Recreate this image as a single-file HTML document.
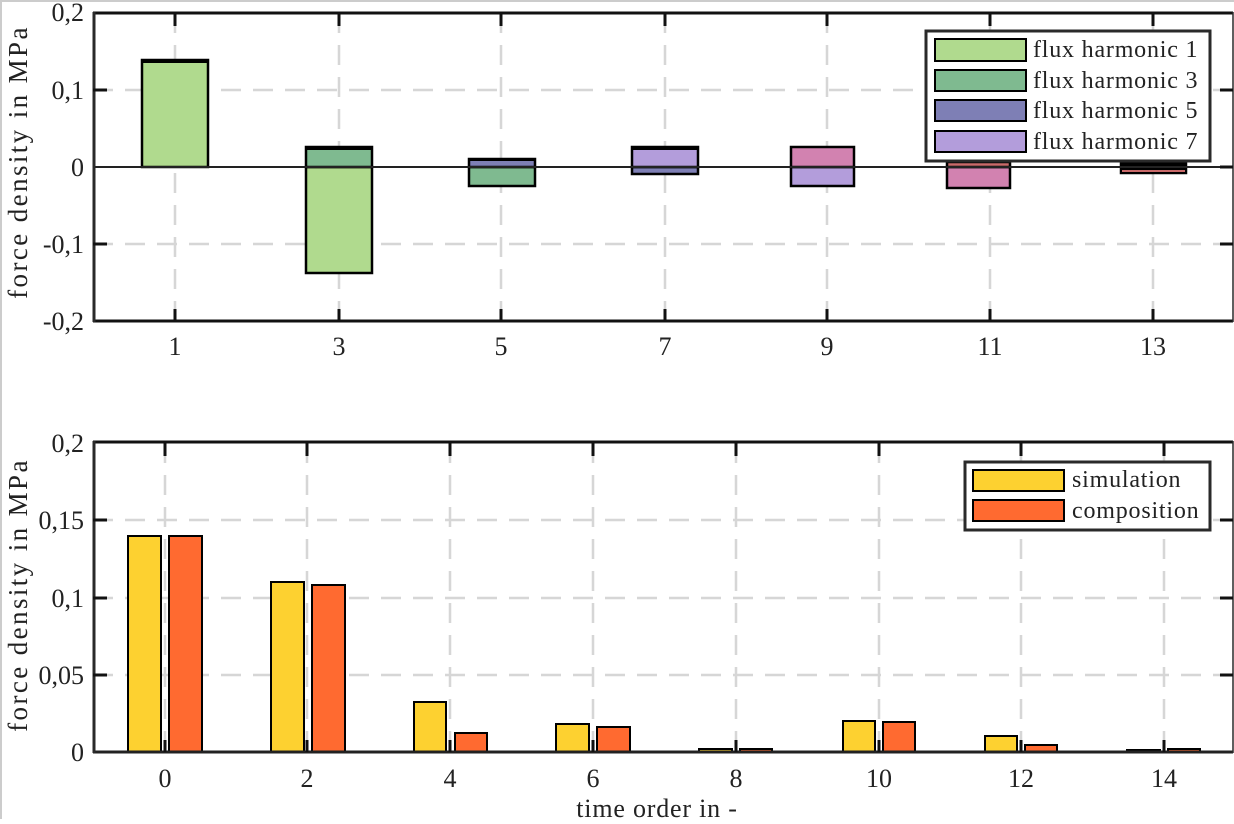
<!DOCTYPE html>
<html><head><meta charset="utf-8"><style>
html,body{margin:0;padding:0;background:#fff;}
svg text{font-family:"Liberation Serif",serif;fill:#222;}
.tk{font-size:26px;}
.lg{font-size:24px;letter-spacing:0.8px;}
.ttl{font-size:27px;letter-spacing:2.4px;}
</style></head><body>
<svg width="1234" height="819" viewBox="0 0 1234 819" xmlns="http://www.w3.org/2000/svg">
<rect x="0" y="0" width="1234" height="819" fill="#fff"/>
<line x1="0" y1="1" x2="1234" y2="1" stroke="#ccc" stroke-width="2"/>
<line x1="1" y1="0" x2="1" y2="819" stroke="#ccc" stroke-width="2"/>

<!-- ===== TOP PLOT ===== -->
<g stroke="#d6d6d6" stroke-width="2.5" stroke-dasharray="20,12">
  <line x1="93" y1="90" x2="1233" y2="90"/>
  <line x1="93" y1="244" x2="1233" y2="244"/>
  <line x1="175" y1="13" x2="175" y2="321"/>
  <line x1="339" y1="13" x2="339" y2="321"/>
  <line x1="501" y1="13" x2="501" y2="321"/>
  <line x1="665" y1="13" x2="665" y2="321"/>
  <line x1="827" y1="13" x2="827" y2="321"/>
  <line x1="990" y1="13" x2="990" y2="321"/>
  <line x1="1153" y1="13" x2="1153" y2="321"/>
</g>
<g stroke="#000" stroke-width="2.5">
  <rect x="142" y="60" width="66" height="107" fill="#b0da8e"/>
  <rect x="142" y="59" width="66" height="4" fill="#000" stroke="none"/>
  <rect x="306" y="167" width="66" height="106" fill="#b0da8e"/>
  <rect x="306" y="147" width="66" height="20" fill="#7fba90"/>
  <rect x="306" y="146" width="66" height="4" fill="#000" stroke="none"/>
  <rect x="469" y="167" width="66" height="19" fill="#7fba90"/>
  <rect x="469" y="159" width="66" height="8" fill="#7e7fb5"/>
  <rect x="469" y="158" width="66" height="3" fill="#000" stroke="none"/>
  <rect x="632" y="167" width="66" height="7" fill="#7e7fb5"/>
  <rect x="632" y="147" width="66" height="20" fill="#b39ddb"/>
  <rect x="632" y="146" width="66" height="4" fill="#000" stroke="none"/>
  <rect x="791" y="167" width="63" height="19" fill="#b39ddb"/>
  <rect x="791" y="147" width="63" height="20" fill="#d282b0"/>
  <rect x="947" y="167" width="63" height="21" fill="#d282b0"/>
  <rect x="947" y="162" width="63" height="5" fill="#c96a6a"/>
  <rect x="1121" y="163" width="65" height="10" fill="#000"/>
  <rect x="1122" y="170" width="63" height="2" fill="#c96a6a" stroke="none"/>
</g>
<line x1="93" y1="167" x2="1233" y2="167" stroke="#222" stroke-width="2"/>
<line x1="93" y1="13" x2="1233" y2="13" stroke="#111" stroke-width="3"/>
<line x1="93" y1="321" x2="1233" y2="321" stroke="#111" stroke-width="3"/>
<line x1="94" y1="12" x2="94" y2="322" stroke="#2a2a2a" stroke-width="3"/>
<line x1="1233" y1="12" x2="1233" y2="322" stroke="#2a2a2a" stroke-width="1.5"/>
<g stroke="#111" stroke-width="3">
  <line x1="93" y1="90" x2="107" y2="90"/><line x1="93" y1="244" x2="107" y2="244"/>
  <line x1="1233" y1="90" x2="1220" y2="90"/><line x1="1233" y1="244" x2="1220" y2="244"/>
  <line x1="1233" y1="167" x2="1220" y2="167"/>
  <line x1="175" y1="13" x2="175" y2="26"/><line x1="339" y1="13" x2="339" y2="26"/>
  <line x1="501" y1="13" x2="501" y2="26"/><line x1="665" y1="13" x2="665" y2="26"/>
  <line x1="827" y1="13" x2="827" y2="26"/><line x1="990" y1="13" x2="990" y2="26"/>
  <line x1="1153" y1="13" x2="1153" y2="26"/>
  <line x1="175" y1="321" x2="175" y2="309"/><line x1="339" y1="321" x2="339" y2="309"/>
  <line x1="501" y1="321" x2="501" y2="309"/><line x1="665" y1="321" x2="665" y2="309"/>
  <line x1="827" y1="321" x2="827" y2="309"/><line x1="990" y1="321" x2="990" y2="309"/>
  <line x1="1153" y1="321" x2="1153" y2="309"/>
</g>
<g class="tk" text-anchor="end">
  <text x="84" y="21">0,2</text>
  <text x="84" y="99">0,1</text>
  <text x="84" y="176">0</text>
  <text x="84" y="253">-0,1</text>
  <text x="84" y="330">-0,2</text>
</g>
<g class="tk" text-anchor="middle">
  <text x="175" y="355">1</text><text x="339" y="355">3</text><text x="501" y="355">5</text>
  <text x="665" y="355">7</text><text x="827" y="355">9</text><text x="990" y="355">11</text>
  <text x="1153" y="355">13</text>
</g>
<text class="ttl" text-anchor="middle" transform="translate(27,162) rotate(-90)">force density in MPa</text>
<rect x="926" y="31" width="284" height="130" fill="#fff" stroke="#2a2a2a" stroke-width="3"/>
<g stroke="#000" stroke-width="2">
  <rect x="935" y="39" width="91" height="22" fill="#b0da8e"/>
  <rect x="935" y="70" width="91" height="21" fill="#7fba90"/>
  <rect x="935" y="100" width="91" height="21" fill="#7e7fb5"/>
  <rect x="935" y="131" width="91" height="21" fill="#b39ddb"/>
</g>
<g class="lg">
  <text x="1033" y="57">flux harmonic 1</text>
  <text x="1033" y="88">flux harmonic 3</text>
  <text x="1033" y="118">flux harmonic 5</text>
  <text x="1033" y="149">flux harmonic 7</text>
</g>

<!-- ===== BOTTOM PLOT ===== -->
<g stroke="#d6d6d6" stroke-width="2.5" stroke-dasharray="20,12">
  <line x1="93" y1="520" x2="1233" y2="520"/>
  <line x1="93" y1="598" x2="1233" y2="598"/>
  <line x1="93" y1="675" x2="1233" y2="675"/>
  <line x1="165" y1="443" x2="165" y2="752"/>
  <line x1="307" y1="443" x2="307" y2="752"/>
  <line x1="450" y1="443" x2="450" y2="752"/>
  <line x1="593" y1="443" x2="593" y2="752"/>
  <line x1="736" y1="443" x2="736" y2="752"/>
  <line x1="879" y1="443" x2="879" y2="752"/>
  <line x1="1021" y1="443" x2="1021" y2="752"/>
  <line x1="1164" y1="443" x2="1164" y2="752"/>
</g>
<g stroke="#000" stroke-width="2">
  <rect x="128" y="536" width="33" height="216" fill="#fdd130"/>
  <rect x="169" y="536" width="33" height="216" fill="#ff6a30"/>
  <rect x="271" y="582" width="33" height="170" fill="#fdd130"/>
  <rect x="312" y="585" width="33" height="167" fill="#ff6a30"/>
  <rect x="414" y="702" width="32" height="50" fill="#fdd130"/>
  <rect x="455" y="733" width="32" height="19" fill="#ff6a30"/>
  <rect x="556" y="724" width="33" height="28" fill="#fdd130"/>
  <rect x="597" y="727" width="33" height="25" fill="#ff6a30"/>
  <rect x="699" y="749" width="33" height="3" fill="#fdd130"/>
  <rect x="740" y="749" width="32" height="3" fill="#ff6a30"/>
  <rect x="843" y="721" width="32" height="31" fill="#fdd130"/>
  <rect x="883" y="722" width="32" height="30" fill="#ff6a30"/>
  <rect x="985" y="736" width="32" height="16" fill="#fdd130"/>
  <rect x="1025" y="745" width="32" height="7" fill="#ff6a30"/>
  <rect x="1127" y="750" width="33" height="2" fill="#000"/>
  <rect x="1168" y="749" width="32" height="3" fill="#ff6a30"/>
</g>
<line x1="93" y1="442" x2="1233" y2="442" stroke="#111" stroke-width="3"/>
<line x1="93" y1="752" x2="1233" y2="752" stroke="#222" stroke-width="3"/>
<line x1="94" y1="441" x2="94" y2="753" stroke="#2a2a2a" stroke-width="3"/>
<line x1="1233" y1="441" x2="1233" y2="753" stroke="#2a2a2a" stroke-width="1.5"/>
<g stroke="#111" stroke-width="3">
  <line x1="93" y1="520" x2="107" y2="520"/><line x1="93" y1="598" x2="107" y2="598"/>
  <line x1="93" y1="675" x2="107" y2="675"/>
  <line x1="1233" y1="520" x2="1220" y2="520"/><line x1="1233" y1="598" x2="1220" y2="598"/>
  <line x1="1233" y1="675" x2="1220" y2="675"/>
  <line x1="165" y1="442" x2="165" y2="456"/><line x1="307" y1="442" x2="307" y2="456"/>
  <line x1="450" y1="442" x2="450" y2="456"/><line x1="593" y1="442" x2="593" y2="456"/>
  <line x1="736" y1="442" x2="736" y2="456"/><line x1="879" y1="442" x2="879" y2="456"/>
  <line x1="1021" y1="442" x2="1021" y2="456"/><line x1="1164" y1="442" x2="1164" y2="456"/>
  <line x1="165" y1="752" x2="165" y2="740"/><line x1="307" y1="752" x2="307" y2="740"/>
  <line x1="450" y1="752" x2="450" y2="740"/><line x1="593" y1="752" x2="593" y2="740"/>
  <line x1="736" y1="752" x2="736" y2="740"/><line x1="879" y1="752" x2="879" y2="740"/>
  <line x1="1021" y1="752" x2="1021" y2="740"/><line x1="1164" y1="752" x2="1164" y2="740"/>
</g>
<g class="tk" text-anchor="end">
  <text x="84" y="452">0,2</text>
  <text x="84" y="529">0,15</text>
  <text x="84" y="607">0,1</text>
  <text x="84" y="684">0,05</text>
  <text x="84" y="761">0</text>
</g>
<g class="tk" text-anchor="middle">
  <text x="165" y="787">0</text><text x="307" y="787">2</text><text x="450" y="787">4</text>
  <text x="593" y="787">6</text><text x="736" y="787">8</text><text x="879" y="787">10</text>
  <text x="1021" y="787">12</text><text x="1164" y="787">14</text>
</g>
<text x="657" y="817" font-size="26" letter-spacing="0.8" text-anchor="middle">time order in -</text>
<text class="ttl" text-anchor="middle" transform="translate(27,595) rotate(-90)">force density in MPa</text>
<rect x="965" y="462" width="245" height="68" fill="#fff" stroke="#2a2a2a" stroke-width="3"/>
<g stroke="#000" stroke-width="2">
  <rect x="973" y="470" width="91" height="21" fill="#fdd130"/>
  <rect x="973" y="500" width="91" height="21" fill="#ff6a30"/>
</g>
<g class="lg">
  <text x="1072" y="487">simulation</text>
  <text x="1072" y="518">composition</text>
</g>
</svg>
</body></html>
